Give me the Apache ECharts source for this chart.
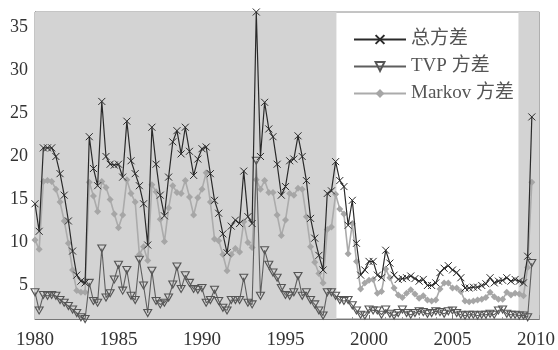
<!DOCTYPE html>
<html><head><meta charset="utf-8">
<script src="https://cdn.jsdelivr.net/npm/echarts@6/dist/echarts.min.js"></script>
<style>html,body{margin:0;padding:0;background:#fff}#c{width:558px;height:350px}</style>
</head><body><div id="c"></div>
<script>
// quarterly observations, 1980Q1 .. 2009Q4
const startYear = 1980;
const quarterStep = 0.25;
const seriesNames = ['总方差', 'TVP 方差', 'Markov 方差'];

const totalVar = [
  14.5, 11.3, 21.0, 21.0, 21.0, 20.0, 18.0, 15.5, 12.5, 9.0,
  6.2, 5.5, 5.3, 22.3, 18.6, 16.6, 26.4, 20.0, 19.1, 19.0,
  19.1, 17.6, 24.1, 19.5, 18.0, 16.6, 14.5, 9.7, 23.4, 19.1,
  15.5, 13.1, 17.6, 21.7, 23.0, 20.3, 23.4, 20.6, 17.8, 19.7,
  20.9, 21.1, 18.0, 14.9, 13.4, 11.0, 8.8, 11.9, 12.6, 12.2,
  18.3, 13.0, 12.2, 36.8, 20.0, 26.3, 23.2, 22.3, 19.1, 15.5,
  16.5, 19.5, 19.7, 22.4, 20.0, 17.2, 12.8, 10.5, 8.5, 6.8,
  15.7, 16.0, 19.4, 17.2, 16.5, 12.0, 14.9, 9.9, 6.2, 6.8,
  7.8, 7.8, 6.2, 5.9, 9.1, 7.6, 6.2, 5.7, 5.8, 5.9,
  6.1, 5.8, 5.5, 5.7, 5.0, 5.0, 5.3, 6.5, 7.0, 7.3,
  6.8, 6.5, 5.9, 4.7, 4.7, 4.8, 4.8, 5.0, 5.2, 5.9,
  5.3, 5.5, 5.6, 5.9, 5.5, 5.7, 5.5, 5.3, 8.4, 24.6
];
const tvpVar = [
  4.2, 2.1, 3.9, 3.8, 3.9, 3.8, 3.3, 3.0, 2.6, 2.2,
  1.8, 1.3, 1.1, 5.3, 3.2, 3.0, 9.3, 3.6, 4.1, 5.7,
  7.4, 4.4, 6.8, 3.8, 3.3, 8.0, 5.0, 1.8, 6.7, 3.2,
  2.8, 3.0, 3.6, 5.1, 7.2, 4.6, 6.2, 5.3, 4.6, 4.5,
  4.7, 3.0, 3.3, 4.5, 3.2, 2.4, 2.1, 3.3, 3.3, 3.3,
  5.9, 3.0, 2.8, 19.5, 3.8, 9.1, 7.4, 6.5, 5.9, 4.7,
  3.9, 3.8, 4.2, 6.1, 3.8, 4.2, 3.3, 2.8, 2.1, 1.5,
  4.2, 4.2, 3.8, 3.3, 3.2, 3.3, 2.7, 2.1, 1.6, 1.5,
  2.2, 2.1, 2.1, 1.6, 2.2, 1.7, 1.5, 1.8, 2.2, 1.8,
  1.6, 1.8, 2.0, 1.9, 1.7, 1.8, 2.0, 1.9, 1.7, 2.0,
  2.1, 1.8, 1.6, 1.5, 1.6, 1.6, 1.5, 1.6, 1.6, 1.7,
  1.6, 2.1, 2.2, 1.7, 1.6, 1.6, 1.5, 1.5, 1.3, 7.6
];
const markovVar = [
  10.3, 9.2, 17.1, 17.2, 17.1, 16.2, 14.7, 12.5, 9.9, 6.8,
  4.4, 4.2, 4.2, 17.0, 15.4, 13.6, 17.1, 16.4, 15.0, 13.3,
  11.7, 13.2, 17.3, 15.7, 14.7, 8.6, 9.5, 7.9, 16.7, 15.9,
  12.7, 10.1, 14.0, 16.6, 15.8, 15.7, 17.2, 15.3, 13.2, 15.2,
  16.2, 18.1, 14.7, 10.4, 10.2, 8.6, 6.7, 8.6, 9.3, 8.9,
  12.4, 10.0, 9.4, 17.3, 16.2, 17.2, 15.8, 15.8, 13.2, 10.8,
  12.6, 15.7, 15.5, 16.3, 16.2, 13.0, 9.5, 7.7, 6.4, 5.3,
  11.5, 11.8, 15.6, 13.9, 13.3, 8.7, 12.2, 7.8, 4.6, 5.3,
  5.6, 5.7, 4.1, 4.3, 6.9, 5.9, 4.7, 3.9, 3.6, 4.1,
  4.5, 4.0, 3.5, 3.8, 3.3, 3.2, 3.3, 4.6, 5.3, 5.3,
  4.7, 4.7, 4.3, 3.2, 3.1, 3.2, 3.3, 3.4, 3.6, 4.2,
  3.7, 3.4, 3.4, 4.2, 3.9, 4.1, 4.0, 3.8, 7.1, 17.0
];
const shadedPeriods = [[1980, 1998.05], [2008.95, 2010.2]];
const xTickLabels = [1980, 1985, 1990, 1995, 2000, 2005, 2010];
const yTickLabels = [5, 10, 15, 20, 25, 30, 35];

const quarters = totalVar.map((_, i) => +(startYear + i * quarterStep).toFixed(2));
const pairs = arr => arr.map((v, i) => [quarters[i], v]);

const serif = "'Liberation Serif','Times New Roman','Noto Sans CJK SC',serif";
const chart = echarts.init(document.getElementById('c'), null, {renderer: 'canvas'});
chart.setOption({
  backgroundColor: '#fff',
  animation: false,
  grid: {left: 35, right: 18, top: 12, bottom: 29, show: true, borderColor: '#8a8a8a', borderWidth: 1, backgroundColor: 'transparent'},
  legend: {
    data: seriesNames, orient: 'vertical', left: 348, top: 25, itemGap: 8,
    itemWidth: 52, itemHeight: 11,
    textStyle: {fontFamily: serif, fontSize: 19, color: '#555'}
  },
  xAxis: {
    type: 'value', min: 1980, max: 2010.2, splitNumber: 7,
    axisLine: {lineStyle: {color: '#777'}},
    axisTick: {inside: true, length: 4, lineStyle: {color: '#777'}},
    minorTick: {show: true, splitNumber: 5, length: 2, lineStyle: {color: '#999'}},
    splitLine: {show: false},
    axisLabel: {
      margin: 12, fontFamily: serif, fontSize: 19, color: '#333',
      formatter: v => xTickLabels.indexOf(Math.round(v * 100) / 100) >= 0 ? String(v) : ''
    }
  },
  yAxis: {
    type: 'value', min: 1.1, max: 36.8, splitNumber: 8,
    axisLine: {show: true, lineStyle: {color: '#777'}},
    axisTick: {inside: true, length: 4, lineStyle: {color: '#777'}},
    minorTick: {show: true, splitNumber: 5, length: 2, lineStyle: {color: '#999'}},
    splitLine: {show: false},
    axisLabel: {
      margin: 7, fontFamily: serif, fontSize: 18, color: '#333',
      formatter: v => yTickLabels.indexOf(Math.round(v * 100) / 100) >= 0 ? String(v) : ''
    }
  },
  series: [
    {
      name: 'Markov 方差', type: 'line', z: 2, data: pairs(markovVar),
      symbol: 'diamond', symbolSize: 7, showAllSymbol: true,
      lineStyle: {color: '#ababab', width: 1.6},
      itemStyle: {color: '#a6a6a6'},
      markArea: {
        silent: true, itemStyle: {color: '#d3d3d3'},
        data: shadedPeriods.map(p => [{xAxis: p[0]}, {xAxis: p[1]}])
      }
    },
    {
      name: 'TVP 方差', type: 'line', z: 3, data: pairs(tvpVar),
      symbol: 'triangle', symbolRotate: 180, symbolSize: [8, 7], showAllSymbol: true,
      lineStyle: {color: '#5e5e5e', width: 1.1},
      itemStyle: {color: 'rgba(0,0,0,0)', borderColor: '#555', borderWidth: 1.1}
    },
    {
      name: '总方差', type: 'line', z: 4, data: pairs(totalVar),
      symbol: 'path://M0,0L10,10M10,0L0,10', symbolSize: 7, showAllSymbol: true,
      lineStyle: {color: '#2a2a2a', width: 1.2},
      itemStyle: {color: '#2a2a2a', borderColor: '#2a2a2a', borderWidth: 1}
    }
  ]
});
</script>
</body></html>
